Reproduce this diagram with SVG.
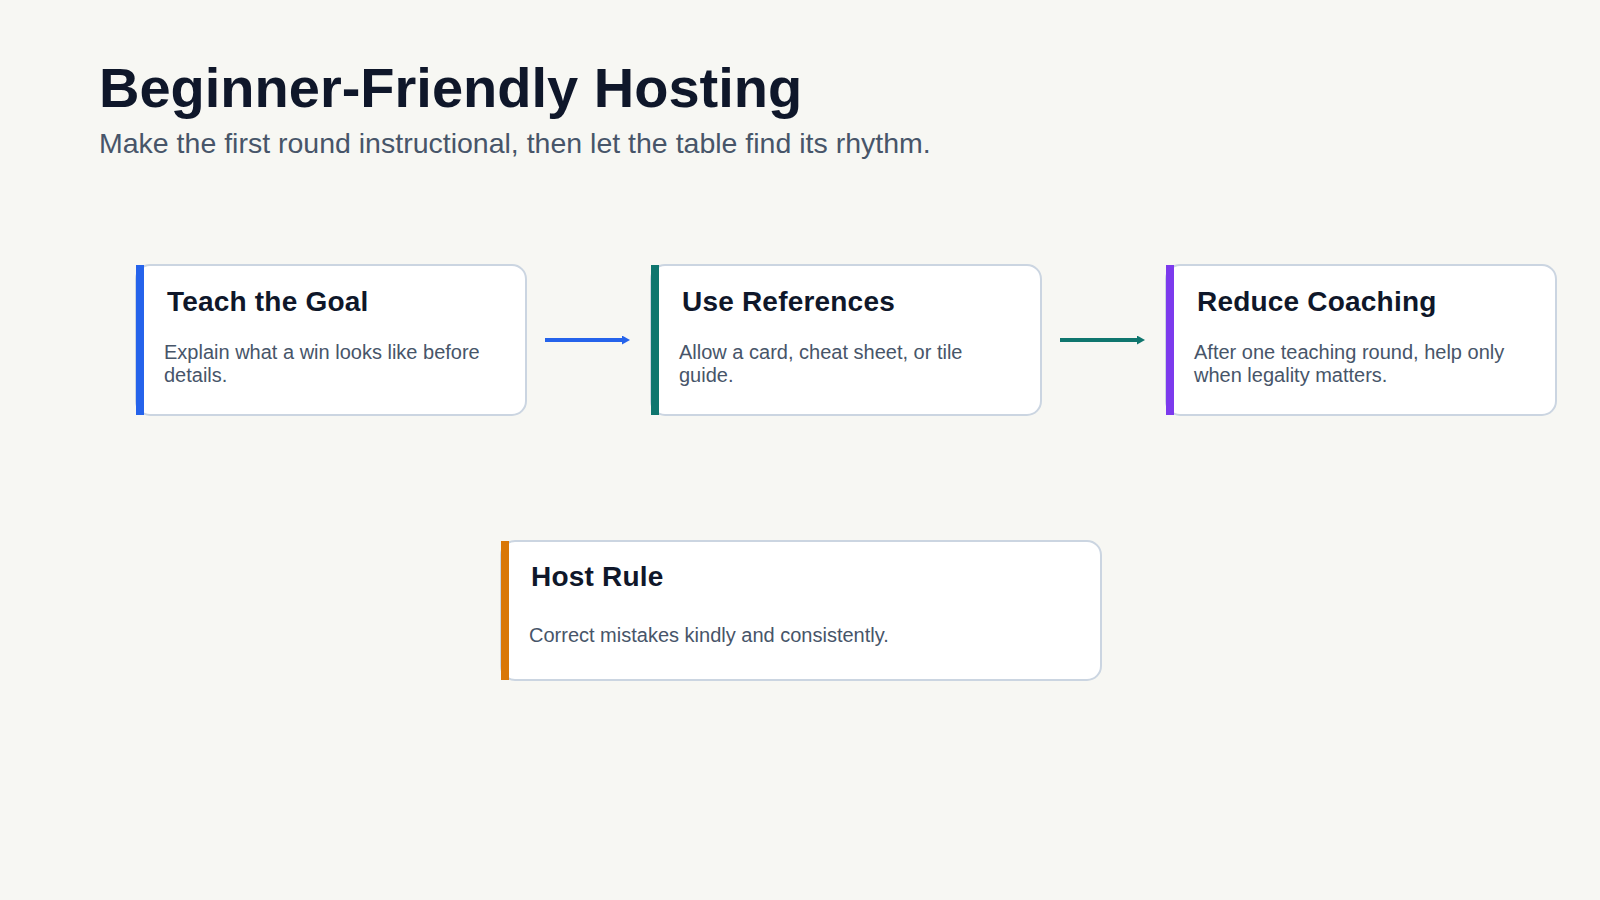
<svg xmlns="http://www.w3.org/2000/svg" width="1600" height="900" viewBox="0 0 1600 900">
  <style>
    .title { font-family: "Liberation Sans", Arial, sans-serif; font-weight: 700; font-size: 56px; fill: #0f172a; }
    .subtitle { font-family: "Liberation Sans", Arial, sans-serif; font-size: 28.5px; fill: #475569; }
    .card { fill: #ffffff; stroke: #cbd5e1; stroke-width: 2; }
    .ctitle { font-family: "Liberation Sans", Arial, sans-serif; font-weight: 700; font-size: 28px; fill: #0f172a; letter-spacing: 0.2px; }
    .cbody { font-family: "Liberation Sans", Arial, sans-serif; font-size: 20px; fill: #475569; }
    .conn { fill: none; stroke-width: 4; }
  </style>
  <defs>
    <marker id="ahBlue" markerUnits="userSpaceOnUse" markerWidth="10" markerHeight="10" refX="0" refY="4.5" orient="auto">
      <path d="M0,0 L8,4.5 L0,9 z" fill="#2563eb"/>
    </marker>
    <marker id="ahTeal" markerUnits="userSpaceOnUse" markerWidth="10" markerHeight="10" refX="0" refY="4.5" orient="auto">
      <path d="M0,0 L8,4.5 L0,9 z" fill="#0f766e"/>
    </marker>
  </defs>
  <rect x="0" y="0" width="1600" height="900" fill="#f7f7f3"/>
  <text class="title" x="99" y="107">Beginner-Friendly Hosting</text>
  <text class="subtitle" x="99" y="153">Make the first round instructional, then let the table find its rhythm.</text>

  <g id="connectors">
    <line class="conn" x1="545" y1="340" x2="622" y2="340" stroke="#2563eb" marker-end="url(#ahBlue)"/>
    <line class="conn" x1="1060" y1="340" x2="1137" y2="340" stroke="#0f766e" marker-end="url(#ahTeal)"/>
  </g>

  <g id="node-teach-goal">
    <rect class="card" x="136" y="265" width="390" height="150" rx="14"/>
    <rect x="136" y="265" width="8" height="150" fill="#2563eb"/>
    <text class="ctitle" x="167" y="311">Teach the Goal</text>
    <text class="cbody" x="164" y="359">Explain what a win looks like before</text>
    <text class="cbody" x="164" y="382">details.</text>
  </g>

  <g id="node-use-references">
    <rect class="card" x="651" y="265" width="390" height="150" rx="14"/>
    <rect x="651" y="265" width="8" height="150" fill="#0f766e"/>
    <text class="ctitle" x="682" y="311">Use References</text>
    <text class="cbody" x="679" y="359">Allow a card, cheat sheet, or tile</text>
    <text class="cbody" x="679" y="382">guide.</text>
  </g>

  <g id="node-reduce-coaching">
    <rect class="card" x="1166" y="265" width="390" height="150" rx="14"/>
    <rect x="1166" y="265" width="8" height="150" fill="#7c3aed"/>
    <text class="ctitle" x="1197" y="311">Reduce Coaching</text>
    <text class="cbody" x="1194" y="359">After one teaching round, help only</text>
    <text class="cbody" x="1194" y="382">when legality matters.</text>
  </g>

  <g id="node-host-rule">
    <rect class="card" x="501" y="541" width="600" height="139" rx="14"/>
    <rect x="501" y="541" width="8" height="139" fill="#d97706"/>
    <text class="ctitle" x="531" y="586">Host Rule</text>
    <text class="cbody" x="529" y="642">Correct mistakes kindly and consistently.</text>
  </g>
</svg>
